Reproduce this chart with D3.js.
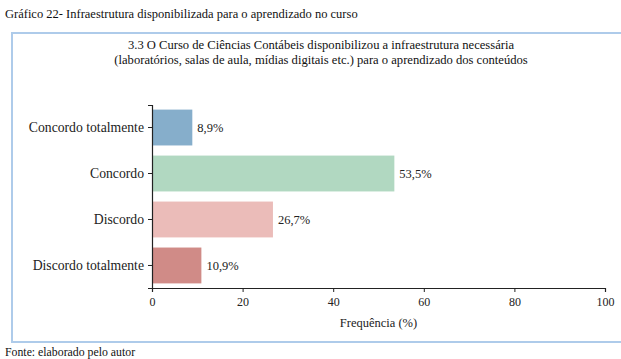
<!DOCTYPE html>
<html>
<head>
<meta charset="utf-8">
<script src="https://cdn.jsdelivr.net/npm/d3@7"></script>
<style>svg { display: block; }</style>
</head>
<body style="margin:0; background:#fff">
<svg id="chart" width="621" height="359"></svg>
<script>
// Survey answers for item 3.3 (share of respondents, %)
const categories = ["Concordo totalmente", "Concordo", "Discordo", "Discordo totalmente"];
const values = [8.9, 53.5, 26.7, 10.9];
const barColors = ["#86aecb", "#b1d8c1", "#ebbcb9", "#d08b87"];
const xTicks = [0, 20, 40, 60, 80, 100];

const title = "Gráfico 22- Infraestrutura disponibilizada para o aprendizado no curso";
const subtitle = [
  "3.3 O Curso de Ciências Contábeis disponibilizou a infraestrutura necessária",
  "(laboratórios, salas de aula, mídias digitais etc.) para o aprendizado dos conteúdos"
];
const xLabel = "Frequência (%)";
const source = "Fonte: elaborado pelo autor";

const SERIF = '"Liberation Serif"';
const svg = d3.select("#chart");

// Figure caption above the framed chart
svg.append("text")
  .attr("x", 5).attr("y", 18)
  .attr("font-size", 12.5)
  .style("font-family", SERIF)
  .attr("fill", "#111")
  .text(title);

// Light blue frame around the chart
svg.append("rect")
  .attr("x", 12).attr("y", 33)
  .attr("width", 620).attr("height", 309)
  .attr("fill", "#fff")
  .attr("stroke", "#aecbea")
  .attr("stroke-width", 2);

// Two-line chart heading
subtitle.forEach((line, i) => {
  svg.append("text")
    .attr("x", 321).attr("y", 49 + i * 14.5)
    .attr("text-anchor", "middle")
    .attr("font-size", 12.6)
    .style("font-family", SERIF)
    .attr("fill", "#111")
    .text(line);
});

const x = d3.scaleLinear().domain([0, 100]).range([152, 605]);
const y = d3.scaleBand().domain(categories).range([105, 288])
  .paddingInner(0.22).paddingOuter(0.1);

// Bars
svg.append("g")
  .selectAll("rect")
  .data(values)
  .join("rect")
  .attr("x", x(0))
  .attr("y", (d, i) => y(categories[i]))
  .attr("width", d => x(d) - x(0))
  .attr("height", y.bandwidth())
  .attr("fill", (d, i) => barColors[i]);

// Value labels
svg.append("g")
  .selectAll("text")
  .data(values)
  .join("text")
  .attr("x", d => x(d) + 5)
  .attr("y", (d, i) => y(categories[i]) + y.bandwidth() / 2)
  .attr("dy", "0.35em")
  .attr("font-size", 12.5)
  .style("font-family", SERIF)
  .attr("fill", "#222")
  .text(d => d3.format(".1f")(d).replace(".", ",") + "%");

// Axes
const xAxis = svg.append("g")
  .attr("transform", `translate(0,${288})`)
  .call(d3.axisBottom(x).tickValues(xTicks).tickSize(4).tickPadding(5));
const yAxis = svg.append("g")
  .attr("transform", `translate(${152},0)`)
  .call(d3.axisLeft(y).tickSize(4).tickPadding(4));

[xAxis, yAxis].forEach(g => {
  g.attr("font-family", null);
  g.selectAll("path, line").attr("stroke", "#222");
  g.select(".domain").attr("stroke-width", 1.2);
  g.selectAll("text").attr("fill", "#222").style("font-family", SERIF);
});
xAxis.attr("font-size", 12);
yAxis.attr("font-size", 13.7);

svg.append("text")
  .attr("x", (x(0) + x(100)) / 2).attr("y", 327)
  .attr("text-anchor", "middle")
  .attr("font-size", 12.5)
  .style("font-family", SERIF)
  .attr("fill", "#222")
  .text(xLabel);

// Source line below the frame
svg.append("text")
  .attr("x", 5).attr("y", 356)
  .attr("font-size", 11.8)
  .style("font-family", SERIF)
  .attr("fill", "#111")
  .text(source);
</script>
</body>
</html>
